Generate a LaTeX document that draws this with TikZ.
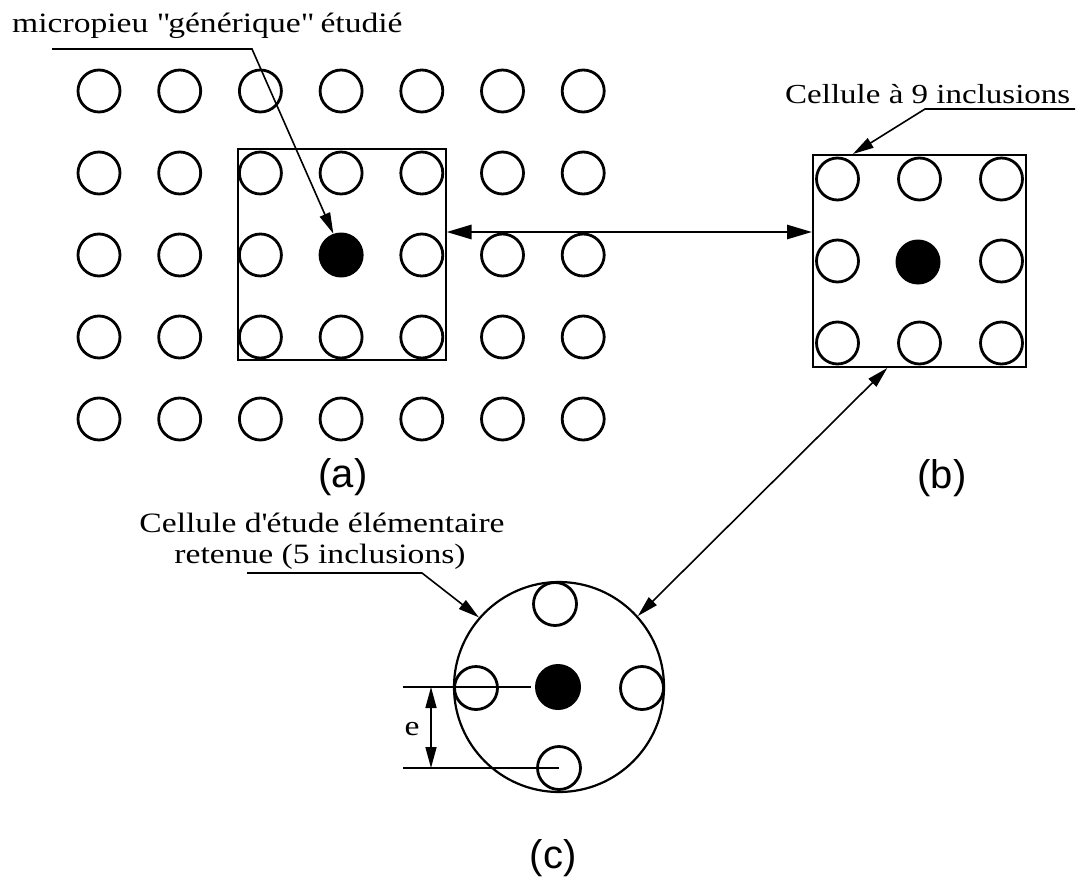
\documentclass[tikz,border=0pt]{standalone}
\usepackage{fontspec}
\setmainfont{Liberation Serif}[FakeStretch=1.2]
\newfontfamily\labfont{Liberation Sans}
\usetikzlibrary{arrows.meta,calc}
\tikzset{
  inc/.style={circle, draw, line width=2.8pt, minimum size=42pt, inner sep=0pt},
  pile/.style={circle, fill=black, minimum size=45pt, inner sep=0pt},
  cellbox/.style={draw, line width=2pt, inner sep=0pt},
  bigcell/.style={circle, draw, line width=2.2pt, minimum size=210pt, inner sep=0pt},
  leader/.style={line width=1.6pt, -{Triangle[length=21pt,width=11pt]}},
  dbl/.style={line width=1.6pt, {Triangle[length=21pt,width=11pt]}-{Triangle[length=21pt,width=11pt]}},
  hdbl/.style={line width=2.8pt, {Triangle[length=25pt,width=14pt]}-{Triangle[length=25pt,width=14pt]}},
  dimline/.style={line width=1.7pt},
  txt/.style={font=\fontsize{28}{30}\selectfont, inner sep=0pt},
  lab/.style={font=\labfont\fontsize{40}{44}\selectfont, inner sep=0pt}
}
\begin{document}
\begin{tikzpicture}[x=1pt, y=-1pt]
\useasboundingbox (0,0) rectangle (1083,880);
% ---- (a) grid ----
\foreach \r in {0,...,4} {
  \foreach \c in {0,...,6} {
    \ifnum\r=2 \ifnum\c=3 \else
      \node[inc] (g\r\c) at ({99+80.7*\c},{91+82*\r}) {};
    \fi \else
      \node[inc] (g\r\c) at ({99+80.7*\c},{91+82*\r}) {};
    \fi
  }
}
\node[pile] (pa) at (341.1,255) {};
\node[cellbox, minimum width=208pt, minimum height=211pt] (boxa) at (341.5,254.5) {};
% ---- (b) cell ----
\node[cellbox, minimum width=213pt, minimum height=212pt] (boxb) at (919.5,261) {};
\foreach \i in {-1,0,1} {
  \foreach \j in {-1,0,1} {
    \ifnum\i=0 \ifnum\j=0 \else
      \node[inc] (b\i\j) at ({919.5+82*\i},{261+82*\j}) {};
    \fi \else
      \node[inc] (b\i\j) at ({919.5+82*\i},{261+82*\j}) {};
    \fi
  }
}
\node[pile] (pb) at (918,262) {};
% ---- (c) cell ----
\node[bigcell] (cc) at (559,687) {};
\node[inc, minimum size=43pt] (ct) at (555,604) {};
\node[inc, minimum size=43pt] (cl) at (476,688) {};
\node[inc, minimum size=43pt] (cr) at (642,688) {};
\node[inc, minimum size=43pt] (cb) at (559,768) {};
\node[pile, minimum size=46pt] (pc) at (558,687) {};
% dimension e
\coordinate (d1s) at (403,687);
\coordinate (d2s) at (403,768);
\draw[dimline, shorten >=4pt] (d1s) -- (pc.west);
\draw[dimline] (d2s) -- (cb.center);
\coordinate (e1) at (431,687);
\coordinate (e2) at (431,768);
\draw[dbl] (e1) -- (e2);
\node[txt] (elab) at (412,729) {e};
% ---- connectors ----
\coordinate (hy) at (0,232);
\draw[hdbl] (boxa.east |- hy) -- (boxb.west |- hy);
\coordinate (u1a) at (52,49);
\coordinate (u1b) at (252,49);
\draw[leader] (u1a) -- (u1b) -- (pa.110);
\coordinate (u2a) at (1075,109);
\coordinate (u2b) at (925,109);
\draw[leader] (u2a) -- (u2b) -- ($(boxb.north west)!0.19!(boxb.north east)$);
\draw[dbl] ($(boxb.south west)!0.35!(boxb.south east)$) -- (cc.42);
\coordinate (u4a) at (247,573);
\coordinate (u4b) at (422,573);
\draw[leader] (u4a) -- (u4b) -- (cc.139);
% ---- texts ----
\node[txt, anchor=base west] (t1) at (12,33) {micropieu \textquotedbl générique\textquotedbl{} étudié};
\node[txt, font=\fontsize{27.5}{30}\selectfont, anchor=base west] (t2) at (785,103) {Cellule à 9 inclusions};
\node[txt, anchor=base] (t3a) at (322,532) {Cellule d\textquotesingle étude élémentaire};
\node[txt, anchor=base] (t3b) at (320,563) {retenue (5 inclusions)};
\node[lab] (la) at (343,477) {(a)};
\node[lab] (lb) at (942,478) {(b)};
\node[lab] (lc) at (553,858) {(c)};
\end{tikzpicture}
\end{document}
